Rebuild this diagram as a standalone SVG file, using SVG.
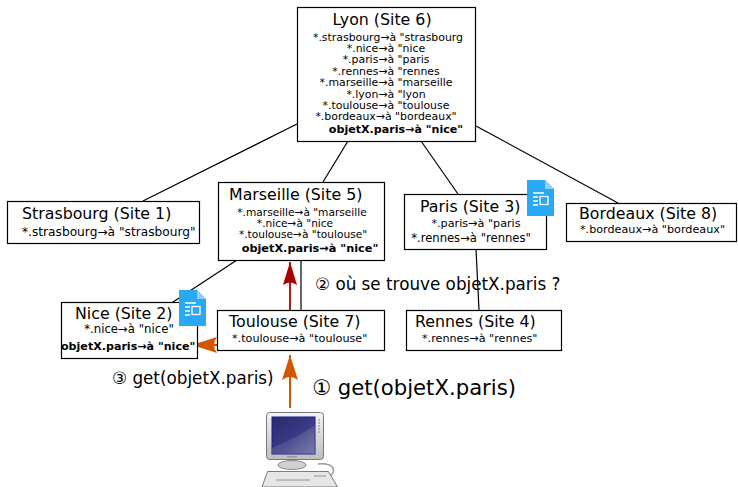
<svg xmlns="http://www.w3.org/2000/svg" width="738" height="487" viewBox="0 0 738 487">
  <style>
    text { font-family: "DejaVu Sans", "Liberation Sans", sans-serif; fill: #000; }
    .box { fill: #fff; stroke: #000; stroke-width: 1.2; }
    .title { font-size: 15.8px; }
    .rule { font-size: 11.2px; }
    .rule-tight { font-size: 10.9px; }
    .key { font-size: 11.1px; font-weight: bold; }
    .link { stroke: #000; stroke-width: 1.2; fill: none; }
    .lbl { font-size: 16.8px; }
    .lbl-big { font-size: 21.2px; }
    .doc-page { fill: #29a8f4; }
    .doc-fold { fill: #8fd0fa; }
    .doc-line { stroke: #fff; stroke-width: 1.3; fill: none; }
  </style>
  <defs>
    <marker id="head-red" markerUnits="userSpaceOnUse" markerWidth="26" markerHeight="18" refX="24" refY="8" orient="auto" viewBox="0 0 26 16">
      <path d="M24,8 L1,1 Q6,8 1,15 Z" fill="#aa0000"/>
    </marker>
    <marker id="head-orange" markerUnits="userSpaceOnUse" markerWidth="28" markerHeight="20" refX="26" refY="9" orient="auto" viewBox="0 0 28 18">
      <path d="M26,9 L1,1 Q7,9 1,17 Z" fill="#d45500"/>
    </marker>
    <g id="doc-icon">
      <path class="doc-page" d="M0,0 H18 L27,9 V36 H0 Z"/>
      <path class="doc-fold" d="M18,0 L27,9 H18 Z"/>
      <path class="doc-line" d="M6,13 H17 M6,17 H11 M6,21 H11 M6,25 H11"/>
      <rect x="13" y="16.5" width="8" height="8" fill="none" stroke="#fff" stroke-width="1.3"/>
    </g>
  </defs>

  <!-- connectors -->
  <g id="connectors">
    <line class="link" x1="297" y1="124" x2="143" y2="201"/>
    <line class="link" x1="348" y1="141" x2="323" y2="182"/>
    <line class="link" x1="421" y1="141" x2="458" y2="194"/>
    <line class="link" x1="476" y1="126" x2="618" y2="203"/>
    <line class="link" x1="237" y1="260" x2="173" y2="302"/>
    <line class="link" x1="301" y1="260" x2="301" y2="310"/>
    <line class="link" x1="476" y1="249" x2="479" y2="310"/>
    <line x1="290" y1="310" x2="290" y2="262" stroke="#aa0000" stroke-width="1.8" marker-end="url(#head-red)"/>
    <line x1="290" y1="408" x2="290" y2="355" stroke="#d45500" stroke-width="2" marker-end="url(#head-orange)"/>
    <line x1="217" y1="345" x2="192" y2="345" stroke="#d45500" stroke-width="2" marker-end="url(#head-orange)"/>
  </g>

  <!-- Lyon -->
  <g id="lyon">
    <rect class="box" x="297.5" y="7.5" width="178" height="134"/>
    <text class="title" x="382" y="25" text-anchor="middle">Lyon (Site 6)</text>
    <g class="rule-tight" text-anchor="middle">
      <text x="388" y="40.5">*.strasbourg→à "strasbourg</text>
      <text x="386" y="51.9">*.nice→à "nice</text>
      <text x="386" y="63.3">*.paris→à "paris</text>
      <text x="386" y="74.7">*.rennes→à "rennes</text>
      <text x="386" y="86.1">*.marseille→à "marseille</text>
      <text x="386" y="97.5">*.lyon→à "lyon</text>
      <text x="386" y="108.9">*.toulouse→à "toulouse</text>
      <text x="386" y="120.3">*.bordeaux→à "bordeaux"</text>
    </g>
    <text class="key" x="396" y="133" text-anchor="middle">objetX.paris→à "nice"</text>
  </g>

  <!-- Strasbourg -->
  <g id="strasbourg">
    <rect class="box" x="7.5" y="201.5" width="192" height="42"/>
    <text class="title" x="22" y="218.5">Strasbourg (Site 1)</text>
    <text class="rule" x="22" y="236" style="font-size:12.2px">*.strasbourg→à "strasbourg"</text>
  </g>

  <!-- Marseille -->
  <g id="marseille">
    <rect class="box" x="218.5" y="182.5" width="166" height="78"/>
    <text class="title" x="229" y="200">Marseille (Site 5)</text>
    <text class="rule" x="302" y="216" text-anchor="middle" style="font-size:10.6px">*.marseille→à "marseille</text>
    <text class="rule" x="295" y="227" text-anchor="middle" style="font-size:10.6px">*.nice→à "nice</text>
    <text class="rule" x="303" y="237.5" text-anchor="middle" style="font-size:10.6px">*.toulouse→à "toulouse"</text>
    <text class="key" x="310" y="252" text-anchor="middle" style="font-size:11.3px">objetX.paris→à "nice"</text>
  </g>

  <!-- Paris -->
  <g id="paris">
    <rect class="box" x="404.5" y="194.5" width="142" height="55"/>
    <text class="title" x="420" y="212">Paris (Site 3)</text>
    <text class="rule" x="476" y="227" text-anchor="middle">*.paris→à "paris</text>
    <text class="rule" x="471" y="241.5" text-anchor="middle" style="font-size:11.6px">*.rennes→à "rennes"</text>
    <use href="#doc-icon" x="527" y="180"/>
  </g>

  <!-- Bordeaux -->
  <g id="bordeaux">
    <rect class="box" x="566.5" y="203.5" width="170" height="38"/>
    <text class="title" x="579" y="218.5">Bordeaux (Site 8)</text>
    <text class="rule" x="580" y="232.5">*.bordeaux→à "bordeaux"</text>
  </g>

  <!-- Nice -->
  <g id="nice">
    <rect class="box" x="61.5" y="302.5" width="136" height="56"/>
    <text class="title" x="75" y="318.5">Nice (Site 2)</text>
    <text class="rule" x="129" y="333" text-anchor="middle" style="font-size:11.7px">*.nice→à "nice"</text>
    <text class="key" x="61" y="350">objetX.paris→à "nice"</text>
    <use href="#doc-icon" x="179" y="290"/>
  </g>

  <!-- Toulouse -->
  <g id="toulouse">
    <rect class="box" x="217.5" y="310.5" width="167" height="40"/>
    <text class="title" x="229" y="326.5">Toulouse (Site 7)</text>
    <text class="rule" x="232" y="341.5">*.toulouse→à "toulouse"</text>
  </g>

  <!-- Rennes -->
  <g id="rennes">
    <rect class="box" x="406.5" y="310.5" width="155" height="40"/>
    <text class="title" x="415" y="327">Rennes (Site 4)</text>
    <text class="rule" x="422" y="341.5">*.rennes→à "rennes"</text>
  </g>

  <!-- step labels -->
  <g id="labels">
    <text class="lbl" x="315" y="289.5">② où se trouve objetX.paris ?</text>
    <text class="lbl" x="112" y="383.5">③ get(objetX.paris)</text>
    <text class="lbl-big" x="312" y="394.5">① get(objetX.paris)</text>
  </g>

  <!-- client workstation -->
  <g id="client">
    <defs>
      <linearGradient id="screen-grad" x1="0" y1="0" x2="1" y2="1">
        <stop offset="0" stop-color="#2a2a6e"/>
        <stop offset="0.55" stop-color="#3a3a86"/>
        <stop offset="1" stop-color="#8a8ab8"/>
      </linearGradient>
      <linearGradient id="case-grad" x1="0" y1="0" x2="0" y2="1">
        <stop offset="0" stop-color="#f4f4f4"/>
        <stop offset="1" stop-color="#bdbdbd"/>
      </linearGradient>
    </defs>
    <path d="M318,464 C332,462 338,470 330,476" fill="none" stroke="#9a9a9a" stroke-width="1.5"/>
    <ellipse cx="292" cy="465" rx="14" ry="4.5" fill="#d0d0d0" stroke="#8a8a8a" stroke-width="1"/>
    <rect x="266.5" y="412.5" width="57" height="47" rx="3" fill="url(#case-grad)" stroke="#7a7a7a" stroke-width="1"/>
    <rect x="272" y="417" width="43" height="37" fill="url(#screen-grad)" stroke="#1a1a90" stroke-width="1"/>
    <path d="M272,448 Q292,440 315,426 V454 H272 Z" fill="#6a6aa0" opacity="0.5"/>
    <g fill="#a0a0a0">
      <circle cx="319" cy="420" r="0.9"/>
      <circle cx="319" cy="423" r="0.9"/>
      <circle cx="319" cy="426" r="0.9"/>
      <circle cx="319" cy="429" r="0.9"/>
      <circle cx="319" cy="432" r="0.9"/>
    </g>
    <rect x="287" y="456" width="10" height="1.5" fill="#9a9a9a"/>
    <path d="M267.5,471.5 H328.5 L337.5,487 H262 Z" fill="#e6e6e6" stroke="#7a7a7a" stroke-width="1"/>
    <path d="M276,480 H310 M314,476 H326" stroke="#b0b0b0" stroke-width="1.5"/>
  </g>
</svg>
